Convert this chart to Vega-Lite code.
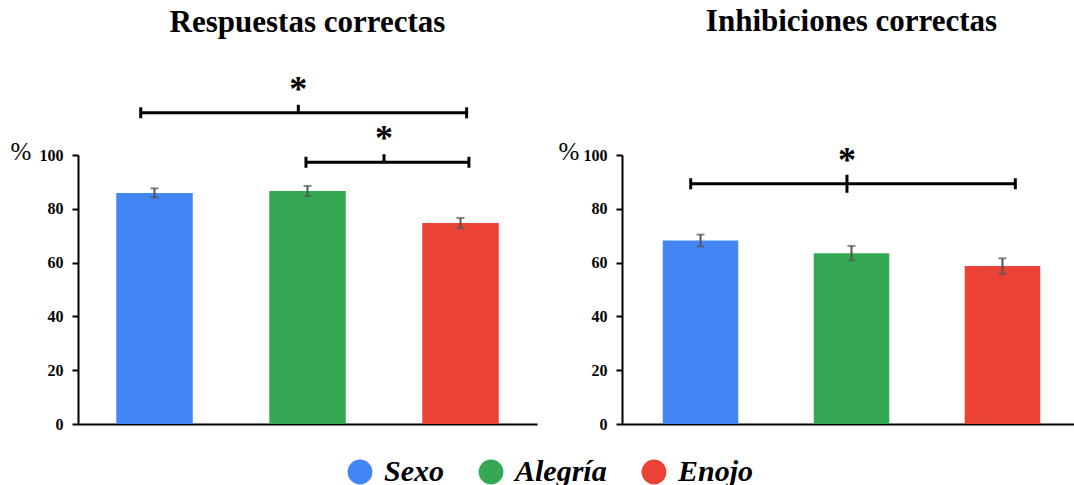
{
  "$schema": "https://vega.github.io/schema/vega-lite/v6.json",
  "padding": {"left": 10, "top": 6, "right": 0, "bottom": 0},
  "config": {
    "view": {"stroke": null},
    "font": "Liberation Serif",
    "axisY": {"domainColor": "black", "domainWidth": 2, "tickColor": "black", "tickWidth": 2, "tickSize": 6, "labelFont": "Liberation Serif", "labelFontWeight": "bold", "labelFontSize": 16, "labelColor": "black", "labelPadding": 9, "grid": false, "titleFont": "Liberation Serif", "titleColor": "black"},
    "title": {"font": "Liberation Serif", "fontSize": 31, "fontWeight": "bold", "color": "black", "anchor": "middle"}
  },
  "datasets": {
    "bars": [
      {"panel": "Respuestas correctas", "cond": "Sexo", "mean": 85.9, "err": 1.7},
      {"panel": "Respuestas correctas", "cond": "Alegría", "mean": 86.6, "err": 1.9},
      {"panel": "Respuestas correctas", "cond": "Enojo", "mean": 74.7, "err": 1.9},
      {"panel": "Inhibiciones correctas", "cond": "Sexo", "mean": 68.2, "err": 2.2},
      {"panel": "Inhibiciones correctas", "cond": "Alegría", "mean": 63.5, "err": 2.7},
      {"panel": "Inhibiciones correctas", "cond": "Enojo", "mean": 58.7, "err": 2.9}
    ],
    "brackets": [
      {"panel": "Respuestas correctas", "id": 1, "from": "Sexo", "to": "Enojo", "mid": "Alegría", "y": 115.7, "label": "*"},
      {"panel": "Respuestas correctas", "id": 2, "from": "Alegría", "to": "Enojo", "mid": "Enojo", "y": 97.3, "label": "*"},
      {"panel": "Inhibiciones correctas", "id": 3, "from": "Sexo", "to": "Enojo", "mid": "Alegría", "y": 89.3, "label": "*"}
    ]
  },
  "spacing": 21,
  "resolve": {"scale": {"x": "independent", "y": "independent", "color": "shared"}},
  "hconcat": [
    {
      "width": 459,
      "height": 269,
      "title": {"text": "Respuestas correctas", "offset": 33},
      "layer": [
        {
          "data": {"name": "bars"},
          "transform": [{"filter": "datum.panel === 'Respuestas correctas'"}],
          "mark": {"type": "bar"},
          "encoding": {
            "x": {"field": "cond", "type": "nominal", "scale": {"domain": ["Sexo", "Alegría", "Enojo"], "paddingInner": 0.5, "paddingOuter": 0.25}, "axis": {"labels": false, "ticks": false, "title": null, "domainColor": "black", "domainWidth": 2}},
            "y": {"field": "mean", "type": "quantitative", "title": "%", "scale": {"domain": [0, 100]}, "axis": {"values": [0, 20, 40, 60, 80, 100], "title": "%", "titleAngle": 0, "titleAlign": "left", "titleBaseline": "alphabetic", "titleX": -68, "titleY": 4, "titleFontSize": 25, "titleFontWeight": "normal"}},
            "color": {"field": "cond", "type": "nominal", "scale": {"domain": ["Sexo", "Alegría", "Enojo"], "range": ["#4285F4", "#34A853", "#EA4335"]},
              "legend": {"orient": "none", "legendX": 267, "legendY": 302, "direction": "horizontal", "title": null, "symbolType": "circle", "symbolSize": 615, "symbolStrokeWidth": 0, "symbolOpacity": 1, "labelFontSize": 30, "labelFont": "'Liberation Serif', 'Times New Roman', serif", "labelFontStyle": "italic", "labelFontWeight": "bold", "labelColor": "black", "labelOffset": 9, "columnPadding": 32}}
          }
        },
        {
          "data": {"name": "bars"},
          "transform": [{"filter": "datum.panel === 'Respuestas correctas'"}],
          "mark": {"type": "errorbar", "color": "#555555", "thickness": 2, "ticks": {"size": 8, "thickness": 2, "color": "#555555"}},
          "encoding": {
            "x": {"field": "cond", "type": "nominal"},
            "y": {"field": "mean", "type": "quantitative", "title": "%"},
            "yError": {"field": "err"}
          }
        },
        {
          "data": {"name": "brackets"},
          "transform": [{"filter": "datum.id === 1"}],
          "mark": {"type": "rule", "strokeWidth": 3, "color": "black"},
          "encoding": {"x": {"field": "from", "type": "nominal", "bandPosition": 0.32}, "x2": {"field": "to", "bandPosition": 0.58}, "y": {"field": "y", "type": "quantitative"}}
        },
        {
          "data": {"name": "brackets"},
          "transform": [{"filter": "datum.id === 1"}],
          "mark": {"type": "point", "shape": "M0,-1L0,1", "size": 121, "filled": false, "stroke": "black", "strokeWidth": 3, "opacity": 1},
          "encoding": {"x": {"field": "from", "type": "nominal", "bandPosition": 0.32}, "y": {"field": "y", "type": "quantitative"}}
        },
        {
          "data": {"name": "brackets"},
          "transform": [{"filter": "datum.id === 1"}],
          "mark": {"type": "point", "shape": "M0,-1L0,1", "size": 121, "filled": false, "stroke": "black", "strokeWidth": 3, "opacity": 1},
          "encoding": {"x": {"field": "to", "type": "nominal", "bandPosition": 0.58}, "y": {"field": "y", "type": "quantitative"}}
        },
        {
          "data": {"name": "brackets"},
          "transform": [{"filter": "datum.id === 1"}],
          "mark": {"type": "point", "shape": "M0,-2L0,0", "size": 64, "filled": false, "stroke": "black", "strokeWidth": 3, "opacity": 1},
          "encoding": {"x": {"field": "mid", "type": "nominal", "bandPosition": 0.38}, "y": {"field": "y", "type": "quantitative"}}
        },
        {
          "data": {"name": "brackets"},
          "transform": [{"filter": "datum.id === 1"}],
          "mark": {"type": "text", "fontSize": 36, "fontWeight": "bold", "font": "Liberation Serif", "baseline": "alphabetic", "align": "center", "dy": -12, "color": "black"},
          "encoding": {"x": {"field": "mid", "type": "nominal", "bandPosition": 0.38}, "y": {"field": "y", "type": "quantitative"}, "text": {"field": "label"}}
        },
        {
          "data": {"name": "brackets"},
          "transform": [{"filter": "datum.id === 2"}],
          "mark": {"type": "rule", "strokeWidth": 3, "color": "black"},
          "encoding": {"x": {"field": "from", "type": "nominal", "bandPosition": 0.48}, "x2": {"field": "to", "bandPosition": 0.61}, "y": {"field": "y", "type": "quantitative"}}
        },
        {
          "data": {"name": "brackets"},
          "transform": [{"filter": "datum.id === 2"}],
          "mark": {"type": "point", "shape": "M0,-1L0,1", "size": 121, "filled": false, "stroke": "black", "strokeWidth": 3, "opacity": 1},
          "encoding": {"x": {"field": "from", "type": "nominal", "bandPosition": 0.48}, "y": {"field": "y", "type": "quantitative"}}
        },
        {
          "data": {"name": "brackets"},
          "transform": [{"filter": "datum.id === 2"}],
          "mark": {"type": "point", "shape": "M0,-1L0,1", "size": 121, "filled": false, "stroke": "black", "strokeWidth": 3, "opacity": 1},
          "encoding": {"x": {"field": "to", "type": "nominal", "bandPosition": 0.61}, "y": {"field": "y", "type": "quantitative"}}
        },
        {
          "data": {"name": "brackets"},
          "transform": [{"filter": "datum.id === 2"}],
          "mark": {"type": "point", "shape": "M0,-2L0,0", "size": 64, "filled": false, "stroke": "black", "strokeWidth": 3, "opacity": 1},
          "encoding": {"x": {"field": "mid", "type": "nominal", "bandPosition": -0.5}, "y": {"field": "y", "type": "quantitative"}}
        },
        {
          "data": {"name": "brackets"},
          "transform": [{"filter": "datum.id === 2"}],
          "mark": {"type": "text", "fontSize": 36, "fontWeight": "bold", "font": "Liberation Serif", "baseline": "alphabetic", "align": "center", "dy": -12, "color": "black"},
          "encoding": {"x": {"field": "mid", "type": "nominal", "bandPosition": -0.5}, "y": {"field": "y", "type": "quantitative"}, "text": {"field": "label"}}
        }
      ]
    },
    {
      "width": 459,
      "height": 269,
      "title": {"text": "Inhibiciones correctas", "offset": 101},
      "layer": [
        {
          "data": {"name": "bars"},
          "transform": [{"filter": "datum.panel === 'Inhibiciones correctas'"}],
          "mark": {"type": "bar"},
          "encoding": {
            "x": {"field": "cond", "type": "nominal", "scale": {"domain": ["Sexo", "Alegría", "Enojo"], "paddingInner": 0.5, "paddingOuter": 0.27}, "axis": {"labels": false, "ticks": false, "title": null, "domainColor": "black", "domainWidth": 2}},
            "y": {"field": "mean", "type": "quantitative", "title": "%", "scale": {"domain": [0, 100]}, "axis": {"values": [0, 20, 40, 60, 80, 100], "title": "%", "titleAngle": 0, "titleAlign": "left", "titleBaseline": "alphabetic", "titleX": -64, "titleY": 4, "titleFontSize": 25, "titleFontWeight": "normal"}},
            "color": {"field": "cond", "type": "nominal"}
          }
        },
        {
          "data": {"name": "bars"},
          "transform": [{"filter": "datum.panel === 'Inhibiciones correctas'"}],
          "mark": {"type": "errorbar", "color": "#555555", "thickness": 2, "ticks": {"size": 8, "thickness": 2, "color": "#555555"}},
          "encoding": {
            "x": {"field": "cond", "type": "nominal"},
            "y": {"field": "mean", "type": "quantitative", "title": "%"},
            "yError": {"field": "err"}
          }
        },
        {
          "data": {"name": "brackets"},
          "transform": [{"filter": "datum.id === 3"}],
          "mark": {"type": "rule", "strokeWidth": 3, "color": "black"},
          "encoding": {"x": {"field": "from", "type": "nominal", "bandPosition": 0.37}, "x2": {"field": "to", "bandPosition": 0.67}, "y": {"field": "y", "type": "quantitative"}}
        },
        {
          "data": {"name": "brackets"},
          "transform": [{"filter": "datum.id === 3"}],
          "mark": {"type": "point", "shape": "M0,-1L0,1", "size": 121, "filled": false, "stroke": "black", "strokeWidth": 3, "opacity": 1},
          "encoding": {"x": {"field": "from", "type": "nominal", "bandPosition": 0.37}, "y": {"field": "y", "type": "quantitative"}}
        },
        {
          "data": {"name": "brackets"},
          "transform": [{"filter": "datum.id === 3"}],
          "mark": {"type": "point", "shape": "M0,-1L0,1", "size": 121, "filled": false, "stroke": "black", "strokeWidth": 3, "opacity": 1},
          "encoding": {"x": {"field": "to", "type": "nominal", "bandPosition": 0.67}, "y": {"field": "y", "type": "quantitative"}}
        },
        {
          "data": {"name": "brackets"},
          "transform": [{"filter": "datum.id === 3"}],
          "mark": {"type": "point", "shape": "M0,-1L0,1", "size": 324, "filled": false, "stroke": "black", "strokeWidth": 3, "opacity": 1},
          "encoding": {"x": {"field": "mid", "type": "nominal", "bandPosition": 0.44}, "y": {"field": "y", "type": "quantitative"}}
        },
        {
          "data": {"name": "brackets"},
          "transform": [{"filter": "datum.id === 3"}],
          "mark": {"type": "text", "fontSize": 36, "fontWeight": "bold", "font": "Liberation Serif", "baseline": "alphabetic", "align": "center", "dy": -12, "color": "black"},
          "encoding": {"x": {"field": "mid", "type": "nominal", "bandPosition": 0.44}, "y": {"field": "y", "type": "quantitative"}, "text": {"field": "label"}}
        }
      ]
    }
  ]
}
